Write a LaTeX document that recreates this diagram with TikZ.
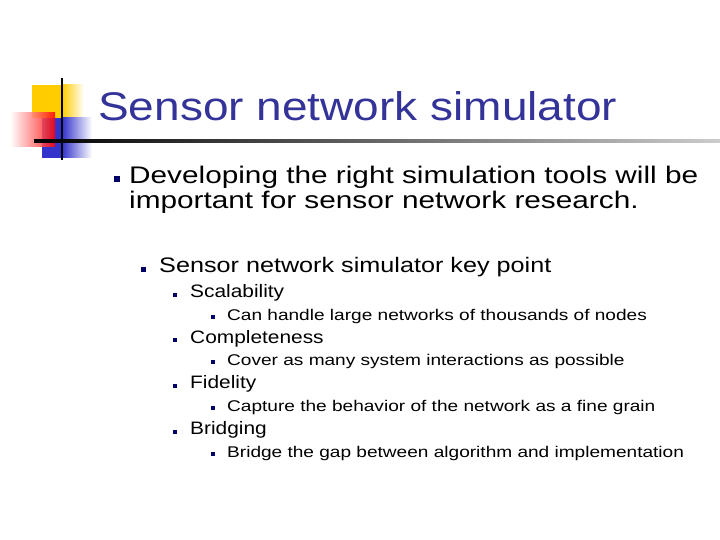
\documentclass[tikz,border=0pt]{standalone}
\usepackage{fontspec}
\setmainfont{Liberation Sans}
\definecolor{ttl}{HTML}{333399}
\definecolor{bul}{HTML}{000066}
\definecolor{gold}{HTML}{FFCC00}
\definecolor{sq}{HTML}{3333CC}
\begin{document}
\begin{tikzpicture}[x=1pt,y=-1pt,
  t/.style={anchor=west,inner sep=0pt,font=\fontsize{#1}{#1}\selectfont},
  b/.style={fill=bul,minimum size=#1,inner sep=0pt}]
\useasboundingbox (0,0) rectangle (720,540);
\fill[gold] (32,85) rectangle (62,118);
\shade[left color=gold,right color=white] (62,85) rectangle (84,118);
\fill[sq] (42,118) rectangle (62,158);
\shade[left color=sq,right color=white] (62,118) rectangle (92,158);
\shade[left color=white,right color=red,opacity=0.85] (10,113) rectangle (55,147);
\draw[line width=2pt] (62,78) -- (62,160);
\shade[left color=black,right color=gray!40] (34,140) rectangle (720,142.5);
\node[t=40,text=ttl] (title) at (98,106) {\scalebox{1.15}[1]{Sensor network simulator}};
\node[b=6pt] (b1) at (117,179) {};
\node[t=24,align=left] (l1) at (129,191) {\scalebox{1.24}[1]{\begin{tabular}{@{}l@{}}Developing the right simulation tools will be\\important for sensor network research.\end{tabular}}};
\node[b=5pt] (b2) at (143,269) {};
\node[t=21] (l2) at (159,267) {\scalebox{1.2}[1]{Sensor network simulator key point}};
\node[b=4pt] (b3) at (175,295) {};
\node[t=18] (s1) at (190,293) {\scalebox{1.16}[1]{Scalability}};
\node[b=3.5pt] (b4) at (213,317) {};
\node[t=15.5] (d1) at (227,316) {\scalebox{1.23}[1]{Can handle large networks of thousands of nodes}};
\node[b=4pt] (b5) at (175,340) {};
\node[t=18] (s2) at (190,339) {\scalebox{1.16}[1]{Completeness}};
\node[b=3.5pt] (b6) at (213,362) {};
\node[t=15.5] (d2) at (227,361) {\scalebox{1.23}[1]{Cover as many system interactions as possible}};
\node[b=4pt] (b7) at (175,386) {};
\node[t=18] (s3) at (190,384) {\scalebox{1.16}[1]{Fidelity}};
\node[b=3.5pt] (b8) at (213,408) {};
\node[t=15.5] (d3) at (227,407) {\scalebox{1.23}[1]{Capture the behavior of the network as a fine grain}};
\node[b=4pt] (b9) at (175,432) {};
\node[t=18] (s4) at (190,430) {\scalebox{1.16}[1]{Bridging}};
\node[b=3.5pt] (b10) at (213,454) {};
\node[t=15.5] (d4) at (227,453) {\scalebox{1.23}[1]{Bridge the gap between algorithm and implementation}};
\end{tikzpicture}
\end{document}
